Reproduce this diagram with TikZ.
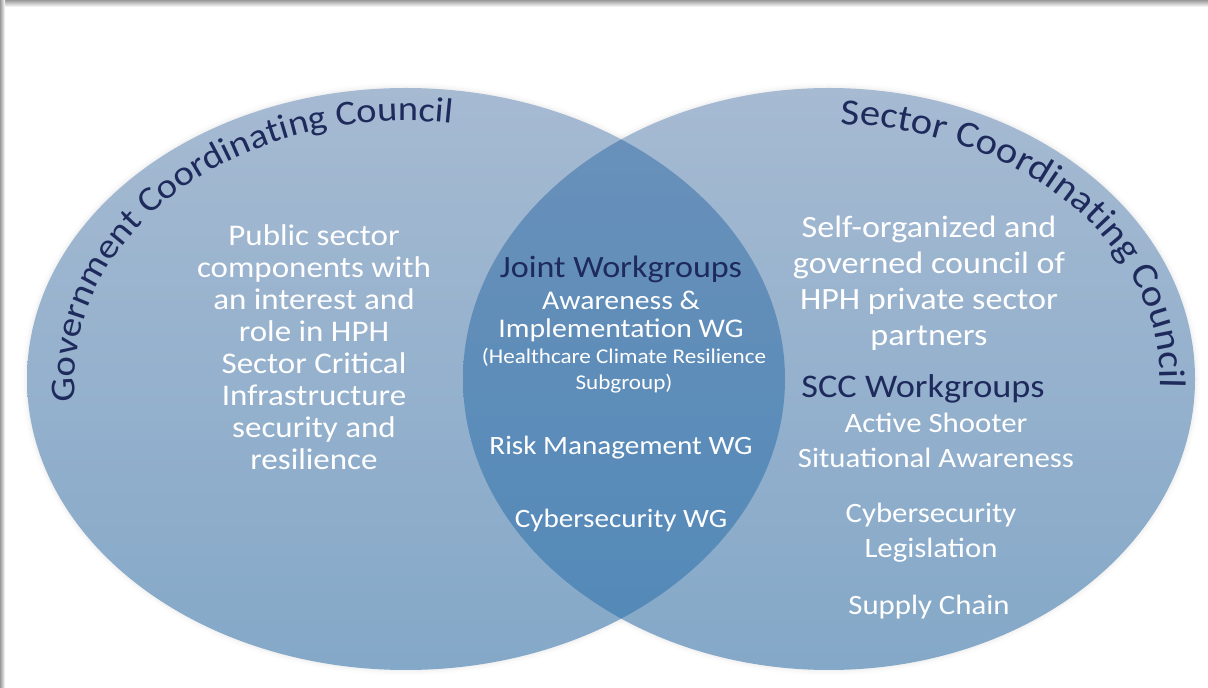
\documentclass[tikz,border=0pt]{standalone}
\usepackage{fontspec}
\setmainfont{Carlito}[FakeStretch=1.1]
\usetikzlibrary{decorations.text,calc}

\definecolor{titlenavy}{RGB}{30,42,92}
\definecolor{outertop}{RGB}{166,186,210}
\definecolor{outerbot}{RGB}{132,168,200}
\definecolor{lenstop}{RGB}{106,145,186}
\definecolor{lensbot}{RGB}{82,137,184}

\tikzset{
  bodytext/.style={text=white, align=center, font=\fontsize{30}{32}\selectfont},
  righttext/.style={text=white, align=center, font=\fontsize{31}{36}\selectfont},
  listtext/.style={text=white, align=center, font=\fontsize{28}{35}\selectfont},
  headtext/.style={text=titlenavy, align=center, font=\fontsize{31}{34}\selectfont},
  lenstext/.style={text=white, align=center, font=\fontsize{26.5}{28}\selectfont},
  smalltext/.style={text=white, align=center, font=\fontsize{21}{26}\selectfont},
}

\begin{document}
\begin{tikzpicture}[x=1pt,y=1pt]
\useasboundingbox (0,0) rectangle (1208,688);
\fill[white] (0,0) rectangle (1208,688);

% page edge shadow
\shade[top color=black!40, bottom color=white] (0,681) rectangle (1208,688);
\shade[left color=black!40, right color=white] (0,0) rectangle (5,688);

% ellipse centres
\coordinate (lc) at (406,309);
\coordinate (rc) at (829,309);

% soft halo round the two ellipses
\foreach \w/\o in {10/0.04, 6/0.06, 3/0.08}{
  \draw[line width=\w, draw=black!25, opacity=\o] (lc) ellipse [x radius=379, y radius=291];
  \draw[line width=\w, draw=black!25, opacity=\o] (rc) ellipse [x radius=366, y radius=291];
}

% the two councils
\shade[top color=outertop, bottom color=outerbot] (lc) ellipse [x radius=379, y radius=291];
\shade[top color=outertop, bottom color=outerbot] (rc) ellipse [x radius=366, y radius=291];

% overlap of the two councils
\begin{scope}
  \clip (lc) ellipse [x radius=379, y radius=291];
  \shade[top color=lenstop, bottom color=lensbot] (rc) ellipse [x radius=366, y radius=291];
\end{scope}

% curved council titles
\path[decorate, decoration={text along path, text align=left,
    text={|\fontsize{35}{38}\selectfont\color{titlenavy}|Government Coordinating Council}}]
  ($(lc)+(185:331 and 258)$) arc [start angle=185, end angle=80, x radius=331, y radius=258];
\path[decorate, decoration={text along path, text align=left,
    text={|\fontsize{37}{40}\selectfont\color{titlenavy}|Sector Coordinating Council}}]
  ($(rc)+(88:331 and 255)$) arc [start angle=88, end angle=-12, x radius=331, y radius=255];

% government side
\node[bodytext] (gov) at (314,341) {Public sector\\components with\\an interest and\\role in HPH\\Sector Critical\\Infrastructure\\security and\\resilience};

% joint workgroups
\node[headtext] (joint) at (621,419) {Joint Workgroups};
\node[lenstext, font=\fontsize{27}{28}\selectfont] (aware) at (621,372) {Awareness \&\\Implementation WG};
\node[smalltext] (climate) at (624,317) {(Healthcare Climate Resilience\\Subgroup)};
\node[lenstext] (risk) at (621,240) {Risk Management WG};
\node[lenstext] (cyberjoint) at (621,168) {Cybersecurity WG};

% sector side
\node[righttext] (scc) at (929,405) {Self-organized and\\governed council of\\HPH private sector\\partners};
\node[headtext, font=\fontsize{33}{36}\selectfont] (sccwg) at (923,299) {SCC Workgroups};
\node[listtext] (shooter) at (936,248) {Active Shooter\\Situational Awareness};
\node[listtext] (cyberleg) at (931,155) {Cybersecurity\\Legislation};
\node[listtext] (supply) at (929,81) {Supply Chain};
\end{tikzpicture}
\end{document}
